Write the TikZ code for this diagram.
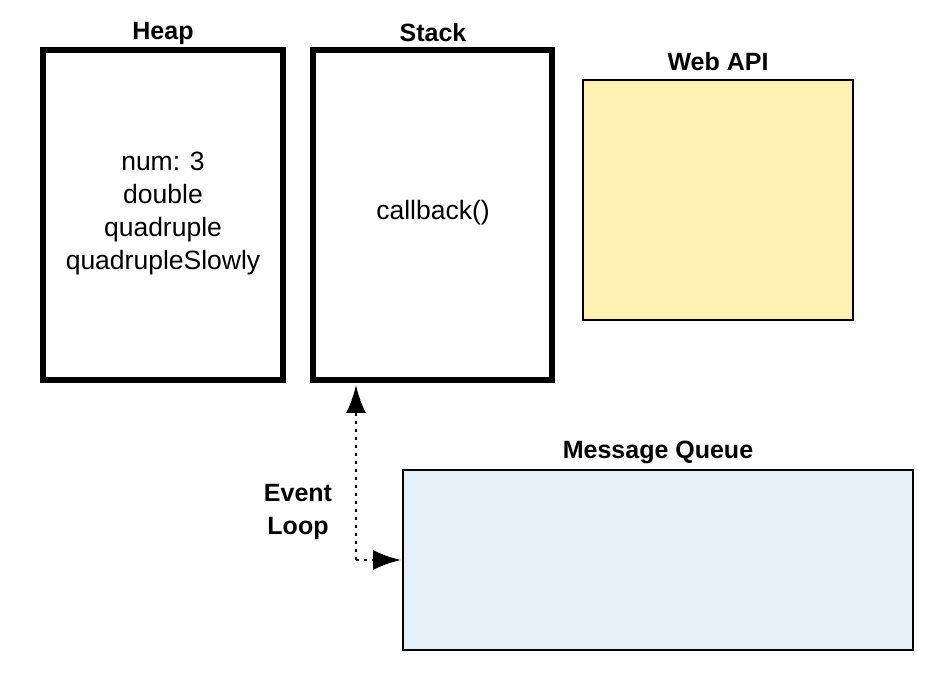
\documentclass[tikz,border=0pt]{standalone}
\usepackage{fontspec}
\setmainfont{Liberation Sans}
\usetikzlibrary{arrows.meta}
\definecolor{webapi}{HTML}{FFF0B3}
\definecolor{mq}{HTML}{E6F0F8}
\begin{document}
\begin{tikzpicture}[x=1pt,y=-1pt,
  thickbox/.style={draw=black,line width=6pt,fill=white},
  thinbox/.style={draw=black,line width=2pt},
  title/.style={font=\fontsize{25}{33}\selectfont\bfseries},
  txt/.style={font=\fontsize{26.5}{33}\selectfont,align=center},
  conn/.style={line width=2.5pt,dash pattern=on 3pt off 5pt,-{Latex[length=28pt,width=20pt]}}]
\useasboundingbox (0,0) rectangle (948,684);
\draw[thickbox] (43,50) rectangle (283,380);
\draw[thickbox] (313,50) rectangle (552,380);
\draw[thinbox,fill=webapi] (583,80) rectangle (853,320);
\draw[thinbox,fill=mq] (403,470) rectangle (913,650);
\node[title] (th) at (163,33) {Heap};
\node[title] (ts) at (433,33) {Stack};
\node[title] (tw) at (718,62) {Web API};
\node[title] (tm) at (658,452) {Message Queue};
\node[txt] (heap) at (163,213) {num: 3\\double\\quadruple\\quadrupleSlowly};
\node[txt] (cb) at (433,213) {callback()};
\node[title,align=center] (el) at (298,512) {Event\\Loop};
\coordinate (corner) at (356,560);
\coordinate (stackb) at (356,385);
\coordinate (mqin) at (401,560);
\draw[conn] (corner) -- (stackb);
\draw[conn] (corner) -- (mqin);
\end{tikzpicture}
\end{document}
